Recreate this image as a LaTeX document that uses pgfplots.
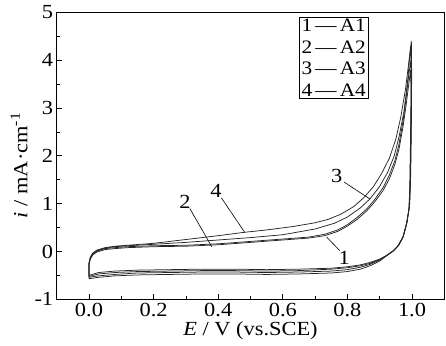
\documentclass[border=0pt]{standalone}
\usepackage{pgfplots}
\pgfplotsset{compat=1.18}
\usepackage{fontspec}
\setmainfont{Liberation Serif}[FakeStretch=1.12]
\pgfplotstableread{
x y
0 -0.50
0 -0.28
0.004 -0.16
0.012 -0.07
0.025 -0.01
0.05 0.04
0.08 0.06
0.12 0.08
0.2 0.10
0.3 0.11
0.4 0.14
0.5 0.19
0.6 0.24
0.68 0.28
0.73 0.33
0.77 0.42
0.80 0.53
0.83 0.67
0.86 0.85
0.885 1.04
0.91 1.27
0.93 1.52
0.947 1.82
0.96 2.15
0.972 2.60
0.982 3.07
0.99 3.50
0.996 3.80
0.997 3.30
0.995 2.20
0.993 1.30
0.99 0.85
0.982 0.55
0.971 0.28
0.955 0.10
0.94 0.00
0.92 -0.09
0.90 -0.16
0.87 -0.23
0.84 -0.28
0.80 -0.32
0.75 -0.35
0.65 -0.37
0.55 -0.38
0.45 -0.37
0.35 -0.37
0.25 -0.38
0.15 -0.39
0.08 -0.41
0.03 -0.44
0 -0.50
}\curveA
\pgfplotstableread{
x y
0 -0.52
0 -0.26
0.004 -0.14
0.012 -0.05
0.025 0.01
0.05 0.06
0.08 0.08
0.12 0.10
0.2 0.12
0.3 0.13
0.4 0.16
0.5 0.21
0.6 0.26
0.68 0.30
0.73 0.36
0.77 0.45
0.80 0.56
0.83 0.71
0.86 0.89
0.885 1.09
0.91 1.33
0.93 1.60
0.947 1.90
0.96 2.25
0.972 2.72
0.982 3.22
0.99 3.70
0.997 4.00
0.998 3.40
0.996 2.30
0.994 1.40
0.991 0.90
0.983 0.58
0.972 0.30
0.957 0.12
0.942 0.01
0.922 -0.08
0.90 -0.17
0.87 -0.25
0.84 -0.30
0.80 -0.34
0.75 -0.37
0.65 -0.40
0.55 -0.41
0.45 -0.40
0.35 -0.40
0.25 -0.41
0.15 -0.42
0.08 -0.44
0.03 -0.47
0 -0.52
}\curveB
\pgfplotstableread{
x y
0 -0.54
0 -0.25
0.004 -0.13
0.012 -0.04
0.025 0.02
0.05 0.07
0.08 0.10
0.12 0.12
0.2 0.15
0.3 0.19
0.4 0.24
0.5 0.29
0.6 0.35
0.7 0.47
0.76 0.59
0.80 0.72
0.84 0.91
0.87 1.10
0.90 1.36
0.925 1.66
0.945 2.00
0.96 2.40
0.975 2.92
0.987 3.60
0.996 4.30
0.998 3.60
0.997 2.50
0.995 1.50
0.992 0.95
0.984 0.60
0.973 0.32
0.958 0.13
0.943 0.02
0.923 -0.08
0.90 -0.18
0.87 -0.27
0.84 -0.33
0.80 -0.38
0.75 -0.41
0.65 -0.43
0.55 -0.44
0.45 -0.43
0.35 -0.43
0.25 -0.44
0.15 -0.45
0.08 -0.48
0.03 -0.51
0 -0.54
}\curveC
\pgfplotstableread{
x y
0 -0.57
0 -0.24
0.004 -0.12
0.012 -0.03
0.025 0.03
0.05 0.08
0.08 0.11
0.12 0.13
0.2 0.17
0.3 0.25
0.4 0.33
0.48 0.40
0.55 0.45
0.63 0.52
0.70 0.60
0.74 0.67
0.78 0.78
0.82 0.94
0.85 1.12
0.88 1.35
0.905 1.62
0.93 1.95
0.95 2.35
0.965 2.80
0.98 3.40
0.99 3.95
0.998 4.40
0.999 3.70
0.998 2.60
0.996 1.60
0.993 1.00
0.985 0.62
0.974 0.33
0.96 0.14
0.945 0.03
0.925 -0.07
0.90 -0.20
0.87 -0.30
0.84 -0.37
0.80 -0.42
0.75 -0.45
0.65 -0.47
0.55 -0.48
0.45 -0.47
0.35 -0.47
0.25 -0.48
0.15 -0.49
0.08 -0.51
0.03 -0.54
0 -0.57
}\curveD
\begin{document}
\begin{tikzpicture}[font=\fontsize{20}{23}\selectfont]
\begin{axis}[
  scale only axis,
  width=387.6pt, height=287pt,
  xmin=-0.1, xmax=1.1, ymin=-1, ymax=5,
  xtick={0,0.2,0.4,0.6,0.8,1.0},
  xticklabels={0.0,0.2,0.4,0.6,0.8,1.0},
  ytick={-1,0,1,2,3,4,5},
  yticklabels={-1,0,1,2,3,4,5},
  minor x tick num=1, minor y tick num=1,
  tick pos=left, tick align=inside,
  major tick length=5pt, minor tick length=3pt,
  axis line style={line width=0.9pt},
  every tick/.style={black, line width=0.7pt},
  xlabel={{\itshape E} / V (vs.SCE)},
  ylabel={{\itshape i} / mA·cm\textsuperscript{-1}},
  ylabel style={at={(ticklabel cs:0.467)}},
  xlabel style={yshift=2pt},
  clip=false,
]
\addplot[black!85, line width=0.75pt] table {\curveA};
\addplot[black!85, line width=0.75pt] table {\curveB};
\addplot[black!85, line width=0.75pt] table {\curveC};
\addplot[black!85, line width=0.75pt] table {\curveD};
\draw[line width=0.6pt] (axis cs:0.79,1.45) -- (axis cs:0.869,1.10);
\node at (axis cs:0.767,1.58) {3};
\draw[line width=0.6pt] (axis cs:0.41,1.12) -- (axis cs:0.482,0.40);
\node at (axis cs:0.393,1.26) {4};
\draw[line width=0.6pt] (axis cs:0.312,0.90) -- (axis cs:0.38,0.10);
\node at (axis cs:0.297,1.04) {2};
\draw[line width=0.6pt] (axis cs:0.776,0.02) -- (axis cs:0.736,0.30);
\node at (axis cs:0.79,-0.14) {1};
\node[draw, line width=0.7pt, anchor=north west, inner sep=2pt, align=left,
  font=\fontsize{19}{21.5}\selectfont]
  at (axis cs:0.651,4.9) {1\,—\,A1\\2\,—\,A2\\3\,—\,A3\\4\,—\,A4};
\path (rel axis cs:0,0) ++(-56.7pt,-46.5pt);
\path (rel axis cs:1,1) ++(1.7pt,12.3pt);
\end{axis}
\end{tikzpicture}
\end{document}
